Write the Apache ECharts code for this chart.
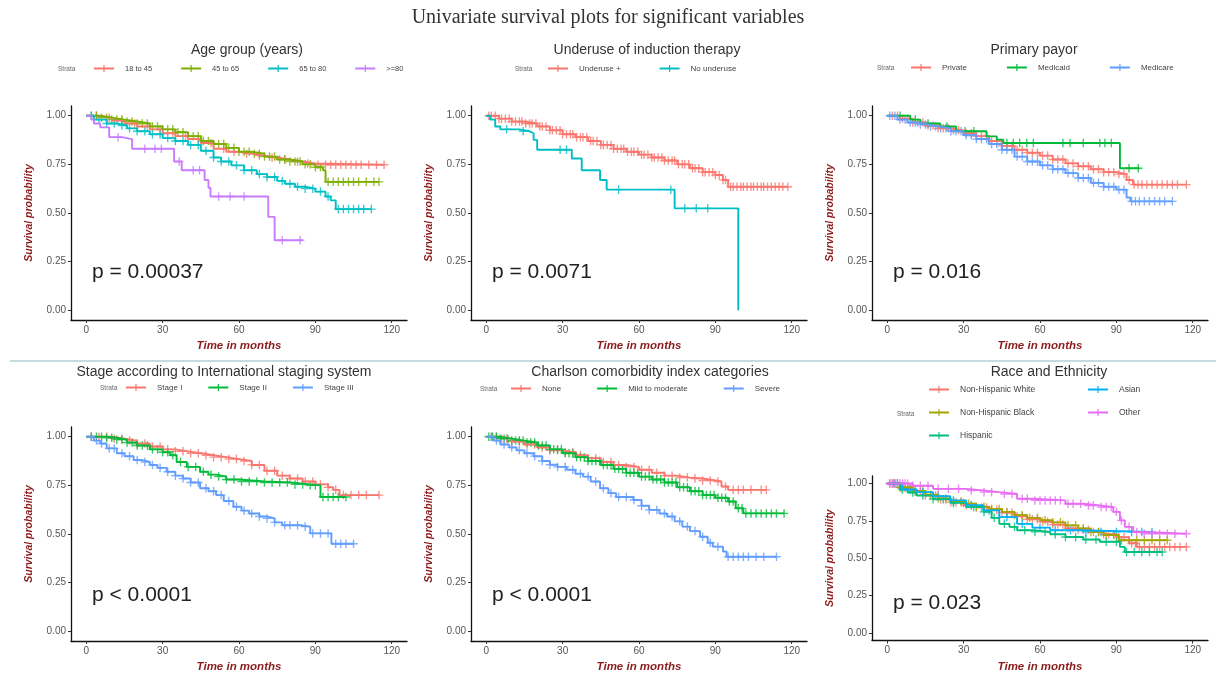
<!DOCTYPE html>
<html><head><meta charset="utf-8">
<script src="https://cdn.jsdelivr.net/npm/echarts@6/dist/echarts.min.js"></script>
<style>html,body{margin:0;padding:0;background:#fff}#c{width:1216px;height:675px}</style>
</head><body><div id="c"></div><script>
// ---------- text ----------
const mainTitle = 'Univariate survival plots for significant variables';
const panelTitles = ['Age group (years)','Underuse of induction therapy','Primary payor',
  'Stage according to International staging system','Charlson comorbidity index categories','Race and Ethnicity'];
const pValues = ['p = 0.00037','p = 0.0071','p = 0.016','p < 0.0001','p < 0.0001','p = 0.023'];
const xTicks = [0,30,60,90,120];
const yTicks = [0,0.25,0.5,0.75,1];
const xName = 'Time in months';
const yName = 'Survival probability';

// ---------- Panel 1: Age group ----------
const ageGroups = ['18 to 45','45 to 65','65 to 80','>=80'];
const age1T = [0,5,10,15,20,25,30,35,40,45,50,55,60,65,70,75,80,85,90];
const age1S = [1,0.99,0.975,0.96,0.945,0.93,0.91,0.895,0.88,0.86,0.83,0.815,0.805,0.795,0.785,0.775,0.765,0.755,0.748];
const age1End = 117;
const age1C = [4,9,14,19,24,29,34,39,44,49,54,58,63,68,73,78,83,87,91,94,96,98,100,102,104,106,108,111,114,117];
const age2T = [0,5,10,15,20,25,30,35,40,45,50,55,60,65,70,75,80,85,90,93,94];
const age2S = [1,0.99,0.98,0.97,0.96,0.945,0.93,0.915,0.895,0.87,0.855,0.835,0.815,0.805,0.79,0.775,0.765,0.75,0.735,0.72,0.66];
const age2End = 115;
const age2C = [2,4,6,8,10,12,14,16,18,20,22,24,26,28,30,32,34,36,38,40,42,44,46,48,50,52,54,56,58,60,62,64,66,68,70,72,74,76,78,80,82,84,86,88,90,92,95,97,99,101,103,105,107,110,113,115];
const age3T = [0,3,8,12,16,20,25,30,35,40,45,50,53,57,62,67,71,75,78,82,86,90,94,96,98];
const age3S = [1,0.98,0.96,0.95,0.935,0.92,0.905,0.885,0.87,0.85,0.82,0.785,0.765,0.745,0.72,0.70,0.685,0.665,0.65,0.635,0.625,0.61,0.585,0.565,0.52];
const age3End = 112;
const age3C = [2,5,8,11,14,17,20,23,26,29,32,35,38,41,44,47,50,53,56,59,62,65,68,71,74,77,80,83,86,89,92,95,99,101,103,105,107,109,112];
const age4T = [0,2,3,5.5,9,14,18,34.5,37.5,46.5,48,48.8,71.5,74];
const age4S = [1,0.98,0.96,0.94,0.89,0.88,0.83,0.765,0.72,0.67,0.63,0.585,0.48,0.36];
const age4End = 85;
const age4C = [12.5,23,27,29.5,36.5,42,44.5,52,56.5,62,77,84];

// ---------- Panel 2: Underuse ----------
const underGroups = ['Underuse +','No underuse'];
const und1T = [0,5,10,15,20,25,30,35,40,45,50,55,60,65,70,75,80,85,90,93,95];
const und1S = [1,0.985,0.97,0.96,0.945,0.925,0.905,0.89,0.87,0.85,0.83,0.815,0.80,0.785,0.77,0.75,0.73,0.71,0.695,0.67,0.635];
const und1End = 118.5;
const und1C = [1,2,3.5,5,6,7.5,9,10,11.5,13,14,15.5,17,18,19.5,21,22,23.5,25,26,27.5,29,30,31.5,33,34,35.5,37,38,39.5,41,42,43.5,45,46,47.5,49,50,51.5,53,54,55.5,57,58,59.5,61,62,63.5,65,66,67.5,69,70,71.5,73,74,75.5,77,78,79.5,81,82,83.5,85,86,87.5,89,90,91.5,93,94,96,97,98.5,100,101,102.5,104,105,106.5,108,109,110.5,112,113.5,115,116.5,118.5];
const und2T = [0,1.5,3.5,5.5,13,17,18.6,20,33.6,37.5,44.7,47.3,74,99];
const und2S = [1,0.98,0.945,0.93,0.92,0.91,0.876,0.825,0.78,0.72,0.67,0.62,0.524,0];
const und2End = 99;
const und2C = [8,14.5,29,31.5,52,72.5,78,82.5,87];

// ---------- Panel 3: Primary payor ----------
const payorGroups = ['Private','Medicaid','Medicare'];
const pay1T = [0,5,10,15,20,25,30,35,40,45,50,55,60,65,70,75,80,85,90,94,96.5];
const pay1S = [1,0.985,0.965,0.95,0.935,0.925,0.91,0.895,0.87,0.845,0.825,0.81,0.795,0.775,0.755,0.74,0.725,0.71,0.70,0.67,0.646];
const pay1End = 117.5;
const pay1C = [2,4,6,8,10,12,14,16,18,20,22,24,26,28,31,33,35,37,39,41,43,45,47,49,51,53,55,57,59,61,63,65,67,69,71,73,75,77,79,81,83,85,87,89,91,93,95,97,98.5,100,102,104,106,108,110,112,114,117.5];
const pay2T = [0,9,13,20.8,27,39,43,45.6,91.4];
const pay2S = [1,0.98,0.96,0.945,0.92,0.894,0.877,0.86,0.73];
const pay2End = 99;
const pay2C = [5,11,16,23.4,30.6,34,47,49.5,52,54.8,57.4,69,71.8,77,83.5,85.5,88,95,98.6];
const pay3T = [0,4,8,12,16,20,25,30,35,40,45,50,55,60,65,70,75,80,85,90,94,95.5];
const pay3S = [1,0.98,0.965,0.955,0.945,0.935,0.92,0.90,0.88,0.855,0.825,0.79,0.765,0.745,0.725,0.705,0.68,0.655,0.635,0.62,0.58,0.56];
const pay3End = 112;
const pay3C = [1,3,5,7,9,11,13,15,17,19,21,23,25,27,29,31,33,35,37,39,41,43,45,47,49,51,53,55,57,59,61,63,65,67,69,71,73,75,77,79,81,83,85,87,89,91,93,96,97.5,99,101,103,105,107,109,112];

// ---------- Panel 4: Stage ----------
const stageGroups = ['Stage I','Stage II','Stage III'];
const stg1T = [0,10,15,20,25,30,35,40,45,50,55,60,65,70,75,80,85,90,95,97,99.5];
const stg1S = [1,0.99,0.98,0.965,0.95,0.935,0.925,0.915,0.905,0.895,0.885,0.875,0.855,0.825,0.80,0.785,0.77,0.755,0.74,0.727,0.70];
const stg1End = 115;
const stg1C = [2,5,8,11,14,17,20,23,26,29,32,35,38,41,44,47,50,53,56,59,62,65,68,71,74,77,80,83,86,89,92,95,98,101,104,107,110,115];
const stg2T = [0,8,12,16,20,25,30,33,35.5,39.5,44.7,48,51,55,60,70,80,88,92];
const stg2S = [1,0.995,0.985,0.97,0.955,0.935,0.92,0.905,0.87,0.845,0.82,0.805,0.795,0.78,0.77,0.765,0.755,0.75,0.69];
const stg2End = 102;
const stg2C = [2,4,6,8,10,12,14,16,18,20,22,24,26,28,30,32,34,37,40,43,46,49,52,55,58,61,64,67,70,73,76,79,82,85,88,90,93,95,97,99,102];
const stg3T = [0,3,5.5,8,12,15,18.6,22,25,28,31.6,35,38,41,44.7,48,51,54,57.8,61,64,68,71,74,77,84,88,96.3];
const stg3S = [1,0.98,0.965,0.94,0.915,0.90,0.88,0.87,0.855,0.84,0.82,0.80,0.785,0.765,0.735,0.72,0.70,0.67,0.64,0.62,0.605,0.59,0.58,0.56,0.545,0.538,0.503,0.45];
const stg3End = 105;
const stg3C = [2,4,6,9,11,14,17,20,23,26,29,32,35,38,41,44,47,50,53,56,59,62,65,68,71,74,78,80,83,86,89,92,95,98,100,102,105];

// ---------- Panel 5: Charlson ----------
const cciGroups = ['None','Mild to moderate','Severe'];
const cci1T = [0,5,10,15,20,25,30,35,40,45,50,55,60,65,70,75,80,85,90,92.4,95];
const cci1S = [1,0.99,0.975,0.96,0.945,0.93,0.92,0.905,0.89,0.87,0.855,0.845,0.83,0.815,0.80,0.79,0.785,0.775,0.77,0.744,0.727];
const cci1End = 110;
const cci1C = [2,4,6,8,10,13,16,19,22,25,28,31,34,37,40,43,46,49,52,55,58,61,64,67,70,73,76,79,82,85,88,91,94,97,99,101,104,108,110];
const cci2T = [0,5,10,15,20,25,30,35,40,45,50,55,60,65,70,75,80,85,90,95,98,101];
const cci2S = [1,0.99,0.98,0.97,0.955,0.935,0.915,0.895,0.875,0.855,0.835,0.815,0.795,0.78,0.765,0.74,0.72,0.70,0.686,0.667,0.632,0.606];
const cci2End = 117;
const cci2C = [1,2.5,4,5.5,7,8.5,10,11.5,13,14.5,16,17.5,19,20.5,22,23.5,25,26.5,28,29.5,31,32.5,34,35.5,37,38.5,40,41.5,43,44.5,46,47.5,49,50.5,52,53.5,55,56.5,58,59.5,61,62.5,64,65.5,67,68.5,70,71.5,73,74.5,76,77.5,79,80.5,82,83.5,85,86.5,88,89.5,91,92.5,94,95.5,97,99,100.5,102,104,106,108,110,112,114,117];
const cci3T = [0,3,5.5,9,12,15,18.6,22,25,28,31.6,35,38,41,44.7,48,51,57.8,61,64,68,71,74,77,80,84,87,89,93,94.4];
const cci3S = [1,0.98,0.96,0.945,0.93,0.915,0.90,0.875,0.856,0.845,0.83,0.81,0.795,0.77,0.735,0.71,0.69,0.675,0.645,0.624,0.605,0.59,0.565,0.538,0.515,0.486,0.455,0.435,0.41,0.383];
const cci3End = 114;
const cci3C = [2,4,7,10,13,16,19,22,25,28,31,34,37,40,43,46,49,52,55,58,61,64,67,70,73,76,79,82,85,88,91,95,97,99,101,103,106,109,114];

// ---------- Panel 6: Race and Ethnicity ----------
const raceGroups = ['Non-Hispanic White','Non-Hispanic Black','Hispanic','Asian','Other'];
const race1T = [0,5,10,15,20,25,30,35,40,45,50,55,60,65,70,75,80,85,90,95,98];
const race1S = [1,0.97,0.945,0.92,0.895,0.875,0.855,0.84,0.825,0.805,0.78,0.76,0.745,0.725,0.70,0.69,0.675,0.66,0.64,0.60,0.576];
const race1End = 117.5;
const race1C = [1,2.5,4,5.5,7,9,11,13,15,17,19,21,23,25,27,29,31,33,35,37,39,41,43,45,47,49,51,53,55,57,59,61,63,65,67,69,71,73,75,77,79,81,83,85,87,89,91,93,96,97.5,99,101,103,105,107,109,111,113,115,117.5];
const race2T = [0,5,10,15,20,25,30,35,40,45,50,55,60,65,70,75,80,85,91];
const race2S = [1,0.975,0.95,0.925,0.90,0.88,0.865,0.845,0.83,0.81,0.79,0.77,0.755,0.74,0.72,0.70,0.675,0.655,0.62];
const race2End = 110;
const race2C = [2,5,8,11,14,17,20,23,26,29,32,35,38,41,44,47,50,53,56,59,62,65,68,71,74,77,80,83,86,89,92,95,98,101,104,107,110];
const race3T = [0,5,8,11.6,18,25,31,37.8,41,44,48,51,57,64,70,77,83.5,91.4,93.3];
const race3S = [1,0.96,0.94,0.92,0.895,0.87,0.842,0.81,0.77,0.73,0.71,0.687,0.676,0.66,0.642,0.625,0.61,0.576,0.542];
const race3End = 108;
const race3C = [3,6,10,14,18,22,26,30,34,38,42,46,50,54,58,62,66,70,74,78,82,86,90,94,97,100,103,106,108];
const race4T = [0,6,11.6,18,24.7,31,37.8,44,51,57,64,75];
const race4S = [1,0.96,0.942,0.915,0.887,0.855,0.82,0.775,0.73,0.705,0.687,0.676];
const race4End = 104;
const race4C = [4,9,14,20,26,33,40,47,53,60,66,72,78,84,90,96,100,104];
const race5T = [0,10,18,31,37.8,44,51,57,70,77,83.5,88.8,91.4,93.3,96.6,100];
const race5S = [1,0.985,0.964,0.953,0.942,0.93,0.898,0.887,0.864,0.853,0.842,0.81,0.753,0.71,0.676,0.664];
const race5End = 117.5;
const race5C = [1,2,3,4,5,6,7,8,10,13,16,20,24,28,33,38,41,46,49,53,55,58,60,62,64,66,68,71,73,76,79,81,84,86,88,90,92,95,98,101,104,107,110,113,117.5];

// ---------- colours ----------
const hue2 = ['#F8766D','#00BFC4'];
const hue3 = ['#F8766D','#00BA38','#619CFF'];
const hue4 = ['#F8766D','#7CAE00','#00BFC4','#C77CFF'];
const hue5 = ['#F8766D','#A3A500','#00BF7D','#00B0F6','#E76BF3'];

// ---------- assemble ----------
const panelCurves = [
  [[age1T,age1S,age1End,age1C],[age2T,age2S,age2End,age2C],[age3T,age3S,age3End,age3C],[age4T,age4S,age4End,age4C]],
  [[und1T,und1S,und1End,und1C],[und2T,und2S,und2End,und2C]],
  [[pay1T,pay1S,pay1End,pay1C],[pay2T,pay2S,pay2End,pay2C],[pay3T,pay3S,pay3End,pay3C]],
  [[stg1T,stg1S,stg1End,stg1C],[stg2T,stg2S,stg2End,stg2C],[stg3T,stg3S,stg3End,stg3C]],
  [[cci1T,cci1S,cci1End,cci1C],[cci2T,cci2S,cci2End,cci2C],[cci3T,cci3S,cci3End,cci3C]],
  [[race1T,race1S,race1End,race1C],[race2T,race2S,race2End,race2C],[race3T,race3S,race3End,race3C],[race4T,race4S,race4End,race4C],[race5T,race5S,race5End,race5C]]
];
const panelGroups = [ageGroups, underGroups, payorGroups, stageGroups, cciGroups, raceGroups];
const panelColors = [hue4, hue2, hue3, hue3, hue3, hue5];

// layout
const grids = [
  {left:71, top:106, width:336, height:214},
  {left:471, top:106, width:336, height:214},
  {left:872, top:106, width:336, height:214},
  {left:71, top:427, width:336, height:214},
  {left:471, top:427, width:336, height:214},
  {left:872, top:476, width:336, height:164.5}
];
const titlePos = [[247,50],[647,50],[1034,50],[224,372],[650,372],[1049,372]];
const pPos = [[92,272],[492,272],[893,272],[92,595],[492,595],[893,603]];
const strataPos = [[58,69],[515,69],[877,68],[100,388],[480,389],[897,414]];

const plusPath = 'path://M0,4.2h10v1.6h-10z M4.2,0h1.6v10h-1.6z';
const FONT = '"Liberation Sans", Arial, sans-serif';

function stepLine(t, s, end) {
  const d = t.map((x, i) => [x, s[i]]);
  if (end > t[t.length - 1]) d.push([end, s[s.length - 1]]);
  return d;
}
function censorPts(t, s, c) {
  return c.map(x => { let v = s[0]; for (let i = 0; i < t.length; i++) if (t[i] <= x) v = s[i]; return [x, v]; });
}

const series = [];
panelCurves.forEach((curves, p) => {
  curves.forEach((cv, k) => {
    const [t, s, end, c] = cv;
    const name = panelGroups[p][k];
    const color = panelColors[p][k];
    series.push({
      type: 'line', name, xAxisIndex: p, yAxisIndex: p, step: 'end',
      symbol: plusPath, showSymbol: false, symbolSize: 8,
      data: stepLine(t, s, end), lineStyle: { color, width: 1.9 }, itemStyle: { color },
      emphasis: { disabled: true }, silent: true
    });
    series.push({
      type: 'scatter', name, xAxisIndex: p, yAxisIndex: p,
      symbol: plusPath, symbolSize: 8.5, data: censorPts(t, s, c), itemStyle: { color },
      emphasis: { disabled: true }, silent: true
    });
  });
});

const xAxes = grids.map((g, i) => ({
  gridIndex: i, type: 'value', min: -6, max: 126,
  name: xName, nameLocation: 'middle', nameGap: 20,
  nameTextStyle: { fontFamily: FONT, fontSize: 11.5, fontStyle: 'italic', fontWeight: 'bold', color: '#8B1A1A' },
  axisLine: { show: true, onZero: false, lineStyle: { color: '#111', width: 1.3 } },
  axisTick: { show: true, length: 3, customValues: xTicks, lineStyle: { color: '#333' } },
  axisLabel: { customValues: xTicks, fontFamily: FONT, fontSize: 10, color: '#555', margin: 5 },
  splitLine: { show: false }
}));
const yAxes = grids.map((g, i) => ({
  gridIndex: i, type: 'value', min: -0.05, max: 1.05,
  name: yName, nameLocation: 'middle', nameGap: 36, nameRotate: 90,
  nameTextStyle: { fontFamily: FONT, fontSize: 10.5, fontStyle: 'italic', fontWeight: 'bold', color: '#8B1A1A' },
  axisLine: { show: true, onZero: false, lineStyle: { color: '#111', width: 1.3 } },
  axisTick: { show: true, length: 3, customValues: yTicks, lineStyle: { color: '#333' } },
  axisLabel: { customValues: yTicks, fontFamily: FONT, fontSize: 10, color: '#555', margin: 5, formatter: v => v.toFixed(2) },
  splitLine: { show: false }
}));

function legend(left, top, data, gap, fs, extra) {
  return Object.assign({
    left, top, data, itemGap: gap, itemWidth: 20, itemHeight: 9, padding: 0,
    selectedMode: false, orient: 'horizontal',
    textStyle: { fontFamily: FONT, fontSize: fs, color: '#444', padding: [0, 0, 0, 6] }
  }, extra || {});
}
const legends = [
  legend(93, 64.5, ageGroups, 28, 7.5),
  legend(547, 64.5, underGroups, 38, 8),
  legend(910, 63.5, payorGroups, 39, 8),
  legend(125, 383.5, stageGroups, 25, 8),
  legend(510, 384.5, cciGroups, 35, 8),
  legend(928, 385, raceGroups.slice(0, 3), 14, 8.5, { orient: 'vertical' }),
  legend(1087, 385, raceGroups.slice(3), 14, 8.5, { orient: 'vertical' })
];

const graphics = [
  { type: 'text', x: 608, y: 18, style: { text: mainTitle, font: '20px "Liberation Serif", "DejaVu Serif", serif', fill: '#333', textAlign: 'center', textVerticalAlign: 'middle' } },
  { type: 'line', shape: { x1: 10, y1: 361, x2: 1216, y2: 361 }, style: { stroke: '#8fb5c4', lineWidth: 1 } }
];
panelTitles.forEach((t, i) => graphics.push({ type: 'text', x: titlePos[i][0], y: titlePos[i][1],
  style: { text: t, font: '14px ' + FONT, fill: '#333', textAlign: 'center', textVerticalAlign: 'middle' } }));
pValues.forEach((t, i) => graphics.push({ type: 'text', x: pPos[i][0], y: pPos[i][1],
  style: { text: t, font: '21px ' + FONT, fill: '#222', textAlign: 'left', textVerticalAlign: 'middle' } }));
strataPos.forEach(pos => graphics.push({ type: 'text', x: pos[0], y: pos[1],
  style: { text: 'Strata', font: '6.5px ' + FONT, fill: '#666', textAlign: 'left', textVerticalAlign: 'middle' } }));

const chart = echarts.init(document.getElementById('c'));
chart.setOption({
  backgroundColor: '#fff',
  animation: false,
  grid: grids.map(g => Object.assign({ outerBoundsMode: 'none' }, g)),
  xAxis: xAxes,
  yAxis: yAxes,
  legend: legends,
  series,
  graphic: graphics
});
</script></body></html>
